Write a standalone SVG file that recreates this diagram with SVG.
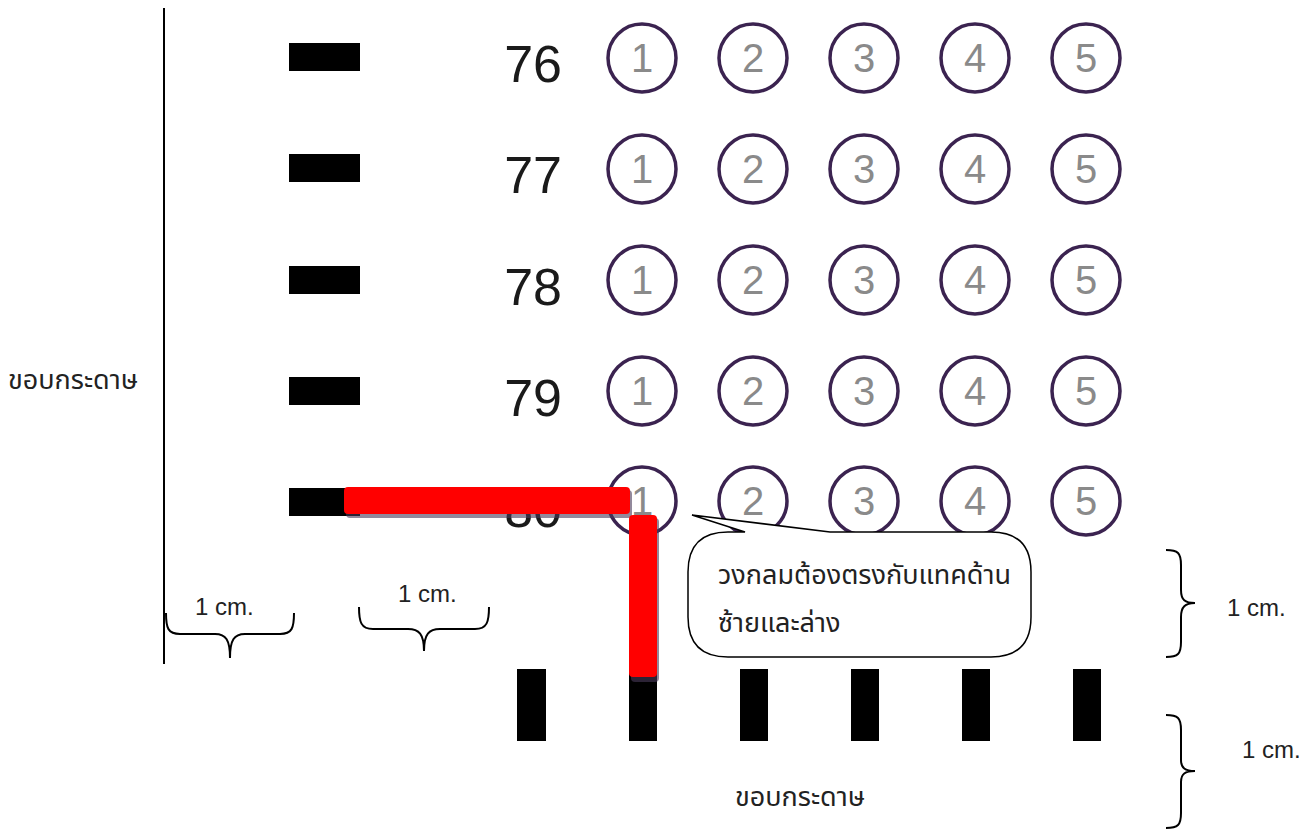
<svg xmlns="http://www.w3.org/2000/svg" width="1311" height="834" viewBox="0 0 1311 834">
<defs>
<style>
.mk{fill:#000}
.bub{fill:none;stroke:#3b2350;stroke-width:3.5}
.bn{font-family:"Liberation Sans",Arial,sans-serif;font-size:40px;fill:#8a8a8a;text-anchor:middle}
.rn{font-family:"Liberation Sans",Arial,sans-serif;font-size:52px;fill:#1a1a1a;text-anchor:end}
.lbl{font-family:"Liberation Sans",Arial,sans-serif;font-size:24px;fill:#222}
.th{font-family:"Noto Sans Thai","Tahoma","Loma","Garuda","Liberation Sans",sans-serif;font-size:27px;fill:#222}
.br{fill:none;stroke:#000;stroke-width:2}
.red{fill:#ff0000}
.sh{fill:#4a3a5a;opacity:0.6}
</style>
</defs>
<rect width="1311" height="834" fill="#fff"/>
<line x1="164" y1="8" x2="164" y2="664" stroke="#000" stroke-width="2"/>
<text class="th" x="8" y="389">ขอบกระดาษ</text>
<g id="row76">
<rect class="mk" x="289" y="43" width="71" height="28"/>
<text class="rn" x="562" y="82">76</text>
<circle class="bub" cx="642" cy="58" r="34"/><text class="bn" x="642" y="72">1</text>
<circle class="bub" cx="753" cy="58" r="34"/><text class="bn" x="753" y="72">2</text>
<circle class="bub" cx="864" cy="58" r="34"/><text class="bn" x="864" y="72">3</text>
<circle class="bub" cx="975" cy="58" r="34"/><text class="bn" x="975" y="72">4</text>
<circle class="bub" cx="1086" cy="58" r="34"/><text class="bn" x="1086" y="72">5</text>
</g>
<g id="row77">
<rect class="mk" x="289" y="154" width="71" height="28"/>
<text class="rn" x="562" y="193">77</text>
<circle class="bub" cx="642" cy="169" r="34"/><text class="bn" x="642" y="183">1</text>
<circle class="bub" cx="753" cy="169" r="34"/><text class="bn" x="753" y="183">2</text>
<circle class="bub" cx="864" cy="169" r="34"/><text class="bn" x="864" y="183">3</text>
<circle class="bub" cx="975" cy="169" r="34"/><text class="bn" x="975" y="183">4</text>
<circle class="bub" cx="1086" cy="169" r="34"/><text class="bn" x="1086" y="183">5</text>
</g>
<g id="row78">
<rect class="mk" x="289" y="266" width="71" height="28"/>
<text class="rn" x="562" y="305">78</text>
<circle class="bub" cx="642" cy="280" r="34"/><text class="bn" x="642" y="294">1</text>
<circle class="bub" cx="753" cy="280" r="34"/><text class="bn" x="753" y="294">2</text>
<circle class="bub" cx="864" cy="280" r="34"/><text class="bn" x="864" y="294">3</text>
<circle class="bub" cx="975" cy="280" r="34"/><text class="bn" x="975" y="294">4</text>
<circle class="bub" cx="1086" cy="280" r="34"/><text class="bn" x="1086" y="294">5</text>
</g>
<g id="row79">
<rect class="mk" x="289" y="377" width="71" height="28"/>
<text class="rn" x="562" y="416">79</text>
<circle class="bub" cx="642" cy="391" r="34"/><text class="bn" x="642" y="405">1</text>
<circle class="bub" cx="753" cy="391" r="34"/><text class="bn" x="753" y="405">2</text>
<circle class="bub" cx="864" cy="391" r="34"/><text class="bn" x="864" y="405">3</text>
<circle class="bub" cx="975" cy="391" r="34"/><text class="bn" x="975" y="405">4</text>
<circle class="bub" cx="1086" cy="391" r="34"/><text class="bn" x="1086" y="405">5</text>
</g>
<g id="row80">
<rect class="mk" x="289" y="488" width="71" height="28"/>
<text class="rn" x="562" y="527">80</text>
<circle class="bub" cx="642" cy="501" r="34"/><text class="bn" x="642" y="515">1</text>
<circle class="bub" cx="753" cy="501" r="34"/><text class="bn" x="753" y="515">2</text>
<circle class="bub" cx="864" cy="501" r="34"/><text class="bn" x="864" y="515">3</text>
<circle class="bub" cx="975" cy="501" r="34"/><text class="bn" x="975" y="515">4</text>
<circle class="bub" cx="1086" cy="501" r="34"/><text class="bn" x="1086" y="515">5</text>
</g>
<g id="bottom-marks">
<rect class="mk" x="517" y="669" width="29" height="72"/>
<rect class="mk" x="629" y="669" width="28" height="72"/>
<rect class="mk" x="740" y="669" width="28" height="72"/>
<rect class="mk" x="851" y="669" width="28" height="72"/>
<rect class="mk" x="962" y="669" width="28" height="72"/>
<rect class="mk" x="1073" y="669" width="28" height="72"/>
</g>
<text class="th" x="735" y="806">ขอบกระดาษ</text>
<g id="connectors">
<rect class="sh" x="346" y="490" width="286" height="28" rx="4"/>
<rect class="sh" x="631" y="518" width="28" height="164" rx="4"/>
<rect class="red" x="344" y="487" width="286" height="27" rx="4"/>
<rect class="red" x="629" y="515" width="28" height="162" rx="4"/>
</g>
<g id="callout">
<path d="M 728,532 L 745,532 L 692,515 L 830,532 L 991,532 Q 1031,532 1031,572 L 1031,617 Q 1031,657 991,657 L 728,657 Q 688,657 688,617 L 688,572 Q 688,532 728,532 Z" fill="#fff" stroke="#000" stroke-width="1.5"/>
<text class="th" x="718" y="584">วงกลมต้องตรงกับแทคด้าน</text>
<text class="th" x="718" y="632">ซ้ายและล่าง</text>
</g>
<g id="brace-left">
<path class="br" d="M 166,613 C 166,628 168,634 180,634 L 215,634 C 226,634 230,640 230,658 C 230,640 234,634 245,634 L 280,634 C 292,634 294,628 294,613"/>
<text class="lbl" x="195" y="615">1 cm.</text>
</g>
<g id="brace-mid">
<path class="br" d="M 359,607 C 359,622 361,629 373,629 L 408,629 C 419,629 424,634 424,651 C 424,634 429,629 440,629 L 475,629 C 487,629 489,622 489,607"/>
<text class="lbl" x="398" y="602">1 cm.</text>
</g>
<g id="brace-right-top">
<path class="br" d="M 1166,550 C 1178,550 1181,553 1181,565 L 1181,590 C 1181,600 1185,603 1195,603 C 1185,603 1181,607 1181,617 L 1181,642 C 1181,654 1178,657 1166,657"/>
<text class="lbl" x="1227" y="616">1 cm.</text>
</g>
<g id="brace-right-bottom">
<path class="br" d="M 1166,715 C 1178,715 1181,718 1181,730 L 1181,760 C 1181,768 1185,771 1195,771 C 1185,771 1181,774 1181,782 L 1181,813 C 1181,825 1178,828 1166,828"/>
<text class="lbl" x="1242" y="758">1 cm.</text>
</g>
</svg>
